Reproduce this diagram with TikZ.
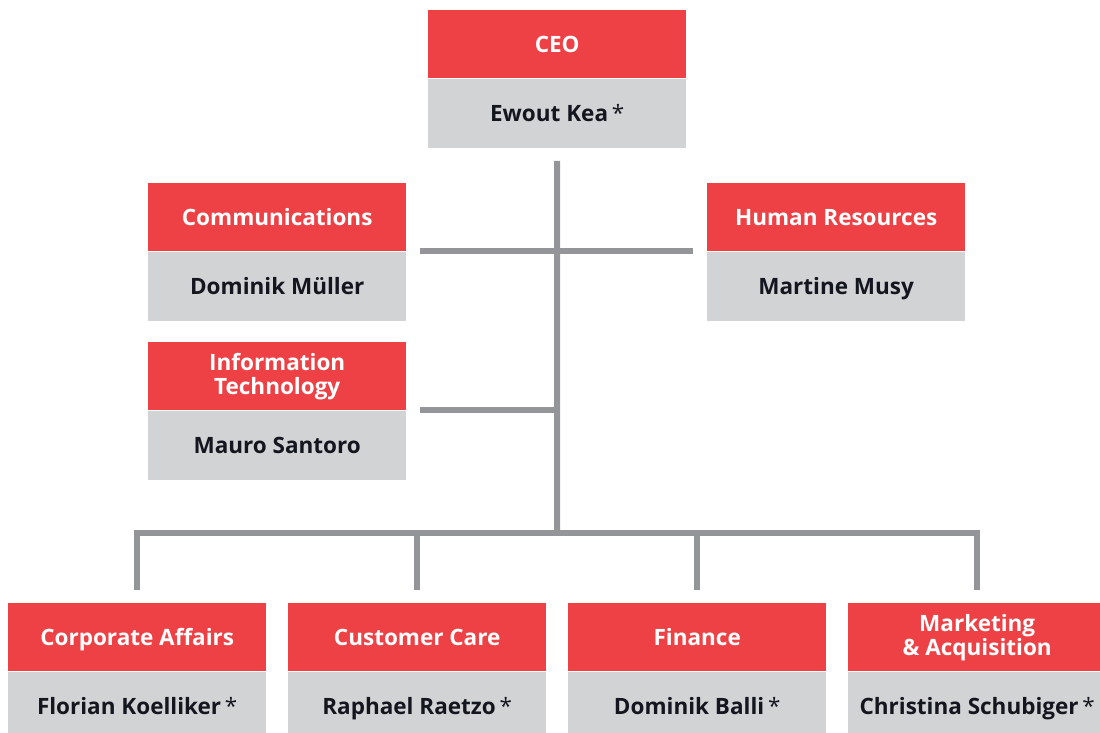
\documentclass[tikz,border=0pt]{standalone}
\usepackage{fontspec}
\setmainfont{Open Sans}
\usetikzlibrary{positioning}
\definecolor{unitred}{HTML}{EE4146}
\definecolor{unitgrey}{HTML}{D1D3D4}
\definecolor{linegrey}{HTML}{939598}
\definecolor{inkdark}{HTML}{14161F}

\begin{document}
\begin{tikzpicture}[x=1pt,y=-1pt,
	unit/.style={anchor=north west,fill=unitred,text=white,minimum width=258pt,minimum height=68pt,
		inner sep=0pt,align=center,text height=16pt,text depth=0pt,font=\bfseries\fontsize{22.5}{24}\selectfont},
	twoline/.style={text height=,text depth=},
	person/.style={below=0pt of #1,fill=unitgrey,text=inkdark,minimum width=258pt,minimum height=69pt,
		inner sep=0pt,text height=16pt,text depth=0pt,font=\bfseries\fontsize{22.5}{24}\selectfont},
	link/.style={draw=linegrey,line width=6pt}]
	\useasboundingbox (0,0) rectangle (1100,733);

	% units
	\node[unit]		(ceo)	at (428,10)	{CEO};
	\node[person=ceo]	(ceoP)			{Ewout Kea\,\textmd{*}};
	\node[unit]		(com)	at (148,183)	{Communications};
	\node[person=com]	(comP)			{Dominik Müller};
	\node[unit]		(hr)	at (707,183)	{Human Resources};
	\node[person=hr]	(hrP)			{Martine Musy};
	\node[unit,twoline]	(it)	at (148,342)	{Information\\Technology};
	\node[person=it]	(itP)			{Mauro Santoro};
	\node[unit]		(ca)	at (8,603)	{Corporate Affairs};
	\node[person=ca]	(caP)			{Florian Koelliker\,\textmd{*}};
	\node[unit]		(cc)	at (288,603)	{Customer Care};
	\node[person=cc]	(ccP)			{Raphael Raetzo\,\textmd{*}};
	\node[unit]		(fi)	at (568,603)	{Finance};
	\node[person=fi]	(fiP)			{Dominik Balli\,\textmd{*}};
	\node[unit,twoline]	(mk)	at (848,603)	{Marketing\\\& Acquisition};
	\node[person=mk]	(mkP)			{Christina Schubiger\,\textmd{*}};

	% lines
	\coordinate (trunk) at ([yshift=-13pt]ceoP.south);
	\coordinate (hub) at (557,533);
	\draw[link] (trunk) -- (hub);
	\draw[link] ([xshift=14pt]com.south east) -- ([xshift=-14pt]hr.south west);
	\draw[link] ([xshift=14pt]it.south east) -- (it.south east -| hub);
	\draw[link] ([yshift=13pt]ca.north) |- (hub) -| ([yshift=13pt]mk.north);
	\draw[link] ([yshift=13pt]cc.north) -- (cc.north |- hub);
	\draw[link] ([yshift=13pt]fi.north) -- (fi.north |- hub);
\end{tikzpicture}
\end{document}
